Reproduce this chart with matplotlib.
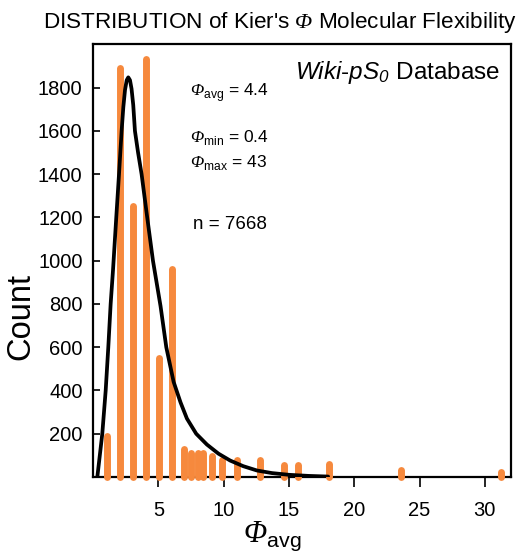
import matplotlib.pyplot as plt

plt.rcParams["font.family"] = ["Liberation Sans", "DejaVu Sans"]
plt.rcParams["mathtext.fontset"] = "custom"
plt.rcParams["mathtext.rm"] = "Liberation Serif:italic"
plt.rcParams["mathtext.sf"] = "Liberation Sans:italic"

# histogram bars (Phi value, count)
phi_bins = [1.07, 2.03, 3.03, 4.04, 5.05, 6.05, 7.0, 7.5, 8.0, 8.45, 9.1, 9.9,
            11.05, 12.75, 14.6, 15.7, 18.1, 23.6, 31.2]
counts = [190, 1890, 1255, 1935, 548, 960, 130, 112, 112, 112, 95, 78,
          80, 80, 56, 56, 58, 33, 25]

# fitted distribution curve
fit_x = [0.33, 0.71, 0.97, 1.17, 1.35, 1.53, 1.78, 1.99, 2.19, 2.32, 2.45,
         2.58, 2.70, 2.83, 2.95, 3.08, 3.21, 3.45, 3.72, 4.15, 4.59, 5.17,
         5.61, 6.17, 6.7, 7.19, 7.9, 8.72, 9.6, 10.5, 11.5, 12.55, 13.7,
         15.0, 16.5, 18.0]
fit_y = [0, 200, 400, 600, 800, 956, 1200, 1400, 1600, 1710, 1790,
         1835, 1848, 1835, 1795, 1720, 1600, 1500, 1400, 1200, 1000, 790,
         600, 440, 345, 270, 200, 150, 108, 76, 50, 30, 18,
         10, 5, 2]

yticks = [200, 400, 600, 800, 1000, 1200, 1400, 1600, 1800]
xticks = [5, 10, 15, 20, 25, 30]

fig = plt.figure(figsize=(5.27, 5.58), dpi=100)
ax = fig.add_axes([0.1765, 0.1452, 0.7931, 0.7751])

ax.vlines(phi_bins, 0, counts, colors="#f6893d", linewidth=5,
          capstyle="round", zorder=3, clip_on=False)
ax.plot(fit_x, fit_y, color="black", linewidth=2.7, zorder=4,
        solid_joinstyle="round", solid_capstyle="round")

ax.set_xlim(0, 32)
ax.set_ylim(0, 2000)
ax.set_xticks(xticks)
ax.set_yticks(yticks)
ax.tick_params(axis="y", direction="in", length=5, width=1.2, labelsize=14.5, pad=7.5)
ax.tick_params(axis="x", direction="out", length=7, width=1.2, labelsize=14.5, pad=10)
for s in ax.spines.values():
    s.set_linewidth(1.6)

ax.set_ylabel("Count", fontsize=23.5, labelpad=1, y=0.372)
ax.set_xlabel(r"$\Phi_{\mathregular{avg}}$", fontsize=22, labelpad=0, x=0.43)

fig.text(0.531, 0.95, r"DISTRIBUTION of Kier's $\Phi$ Molecular Flexibility",
         ha="center", va="baseline", fontsize=16.2)

ax.text(0.975, 0.936, r"$\mathsf{Wiki}$-$\mathsf{pS_0}$ Database",
        transform=ax.transAxes, ha="right", va="center", fontsize=17.5)
ax.text(0.232, 0.889, r"$\Phi_{\mathregular{avg}}$ = 4.4",
        transform=ax.transAxes, ha="left", va="center", fontsize=12.5)
ax.text(0.232, 0.786, r"$\Phi_{\mathregular{min}}$ = 0.4",
        transform=ax.transAxes, ha="left", va="center", fontsize=12.5)
ax.text(0.232, 0.726, r"$\Phi_{\mathregular{max}}$ = 43",
        transform=ax.transAxes, ha="left", va="center", fontsize=12.5)
ax.text(0.239, 0.583, "n = 7668",
        transform=ax.transAxes, ha="left", va="center", fontsize=13.5)

fig.savefig("out.png", dpi=100)
